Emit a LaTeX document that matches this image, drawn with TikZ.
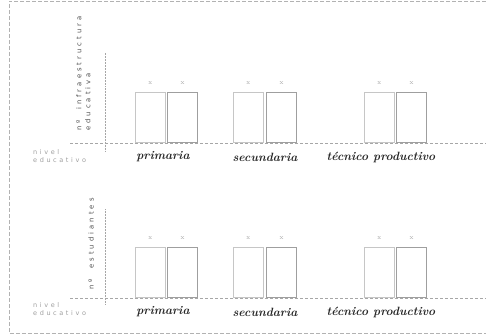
\documentclass[tikz,border=0pt]{standalone}
\usepackage{fontspec}
\newfontfamily\axfont[LetterSpace=40]{DejaVu Sans}
\newfontfamily\yfont[LetterSpace=45]{DejaVu Sans}
\begin{document}
\begin{tikzpicture}[x=1pt,y=-1pt,
  frame/.style={gray!60, line width=0.6pt, dash pattern=on 4pt off 2pt},
  axisline/.style={gray!70, densely dashed, line width=0.5pt},
  yaxis/.style={gray!70, densely dotted, line width=0.5pt},
  lightbar/.style={draw=gray!45, line width=0.8pt, fill=white, minimum width=30pt, minimum height=50pt, inner sep=0pt},
  darkbar/.style={draw=gray!75, line width=1pt, fill=white, minimum width=30pt, minimum height=50pt, inner sep=0pt},
  xmark/.style={font=\fontsize{6.5}{6.5}\selectfont, text=gray!75, inner sep=0pt},
  cat/.style={font=\fontsize{12}{13}\selectfont\bfseries\itshape, text=black!85, inner sep=0pt},
  axlab/.style={font=\axfont\fontsize{6.5}{8}\selectfont, text=gray!75, inner sep=0pt, align=left},
  ylab/.style={font=\yfont\fontsize{6.8}{9}\selectfont, text=gray!60!black, inner sep=0pt, rotate=90, align=left}
]
\useasboundingbox (0,0) rectangle (486,334);
% frame
\coordinate (f1) at (486,1);
\coordinate (f2) at (9,1);
\coordinate (f3) at (9,333);
\coordinate (f4) at (486,333);
\draw[frame] (f1) -- (f2) -- (f3) -- (f4);

% ---------- top chart ----------
\coordinate (ta1) at (70,143);
\coordinate (ta2) at (486,143);
\draw[axisline] (ta1) -- (ta2);
\coordinate (tv1) at (105,53);
\coordinate (tv2) at (105,151);
\draw[yaxis] (tv1) -- (tv2);

\node[lightbar, anchor=south west] (t1a) at (135,143) {};
\node[darkbar, anchor=south west] (t1b) at (167,143) {};
\node[lightbar, anchor=south west] (t2a) at (233,143) {};
\node[darkbar, anchor=south west] (t2b) at (266,143) {};
\node[lightbar, anchor=south west] (t3a) at (364,143) {};
\node[darkbar, anchor=south west] (t3b) at (396,143) {};
\foreach \b in {t1a,t1b,t2a,t2b,t3a,t3b}{
  \node[xmark] (x\b) at ([yshift=9pt]\b.north) {x};
}
\node[cat] (tc1) at (163,157) {primaria};
\node[cat] (tc2) at (265,157) {secundaria};
\node[cat] (tc3) at (381,157) {técnico productivo};
\node[axlab, anchor=north west] (tnl) at (33,149) {nivel\\educativo};
\node[ylab, anchor=north west] (tyl) at (76,131) {nº\ \ infraestructura\\educativa};

% ---------- bottom chart ----------
\coordinate (ba1) at (70,298);
\coordinate (ba2) at (486,298);
\draw[axisline] (ba1) -- (ba2);
\coordinate (bv1) at (105,209);
\coordinate (bv2) at (105,305);
\draw[yaxis] (bv1) -- (bv2);

\node[lightbar, anchor=south west] (b1a) at (135,298) {};
\node[darkbar, anchor=south west] (b1b) at (167,298) {};
\node[lightbar, anchor=south west] (b2a) at (233,298) {};
\node[darkbar, anchor=south west] (b2b) at (266,298) {};
\node[lightbar, anchor=south west] (b3a) at (364,298) {};
\node[darkbar, anchor=south west] (b3b) at (396,298) {};
\foreach \b in {b1a,b1b,b2a,b2b,b3a,b3b}{
  \node[xmark] (x\b) at ([yshift=9pt]\b.north) {x};
}
\node[cat] (bc1) at (163,312) {primaria};
\node[cat] (bc2) at (265,312) {secundaria};
\node[cat] (bc3) at (381,312) {técnico productivo};
\node[axlab, anchor=north west] (bnl) at (33,302) {nivel\\educativo};
\node[ylab] (byl) at (91,244) {nº\ \ estudiantes};
\end{tikzpicture}
\end{document}
